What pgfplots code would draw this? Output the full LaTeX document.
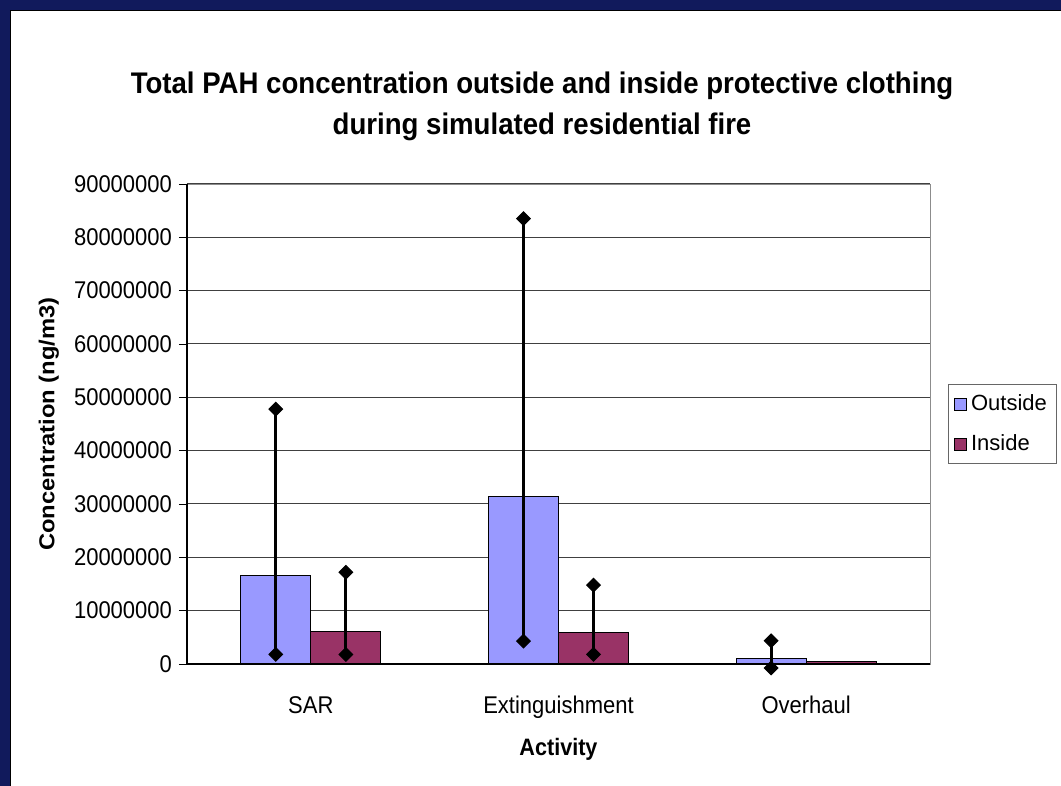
\documentclass[border=0pt]{standalone}
\usepackage{pgfplots}
\pgfplotsset{compat=1.18}
\usepackage{fontspec}
\setmainfont{Liberation Sans}
\definecolor{navyb}{RGB}{17,26,92}
\definecolor{outs}{RGB}{153,153,255}
\definecolor{ins}{RGB}{153,51,102}
\begin{document}
\begin{tikzpicture}
\path[use as bounding box] (0pt,0pt) rectangle (530.5pt,393pt);
\fill[white] (0pt,0pt) rectangle (530.5pt,393pt);
\fill[navyb] (0pt,388pt) rectangle (530.5pt,393pt);
\fill[navyb] (0pt,0pt) rectangle (5pt,393pt);
\draw[black,line width=0.6pt] (5.3pt,0pt) -- (5.3pt,387.7pt) -- (530.5pt,387.7pt);
\node[font=\fontsize{13.8}{19}\selectfont\bfseries,align=center,yscale=1.08] at (271pt,340pt) {Total PAH concentration outside and inside protective clothing\\during simulated residential fire};
\begin{axis}[
  at={(93.5pt,61pt)}, anchor=south west,
  scale only axis, width=371.5pt, height=240pt,
  xmin=-0.5, xmax=2.5, ymin=0, ymax=90000000,
  ybar=0pt, bar width=0.283,
  clip=false,
  scaled y ticks=false,
  axis line style={black!45},
  tick pos=left,
  xtick={0,1,2}, xticklabels={SAR,Extinguishment,Overhaul},
  major x tick style={draw=none},
  extra x ticks={-0.5,0.5,1.5,2.5}, extra x tick labels={},
  extra x tick style={major tick length=4pt, tick style={black, draw=black}, tick align=outside},
  ytick={0,10000000,20000000,30000000,40000000,50000000,60000000,70000000,80000000,90000000},
  yticklabels={0,10000000,20000000,30000000,40000000,50000000,60000000,70000000,80000000,90000000},
  tick align=outside, major tick length=4pt,
  ytick style={black},
  ymajorgrids, grid style={black!75, line width=0.5pt},
  tick label style={font=\fontsize{11}{13}\selectfont, yscale=1.1},
  xticklabel style={anchor=base, yshift=-19pt},
  xlabel={\textbf{Activity}}, ylabel={\textbf{Concentration (ng/m3)}},
  label style={font=\fontsize{10.8}{13}\selectfont},
  xlabel style={at={(axis description cs:0.5,-0.177)}, anchor=center, yscale=1.1},
  ylabel style={at={(axis description cs:-0.186,0.5)}, anchor=center, xscale=1.1},
  legend style={at={(1.024,0.5)}, anchor=west, draw=black!60, font=\fontsize{11}{13}\selectfont, row sep=6.5pt, inner sep=3pt},
  legend cell align=left,
  legend image code/.code={\draw[#1,draw=black,line width=0.4pt,bar width=0pt,ybar=0pt] (0pt,-3pt) rectangle (6pt,3pt);},
  error bars/y dir=both, error bars/y explicit,
  error bars/error bar style={black, line width=1.5pt},
  error bars/error mark=square*,
  error bars/error mark options={black, fill=black, rotate=45, mark size=2.4pt, line width=0.5pt},
]
\addplot[fill=outs, draw=black, line width=0.5pt] coordinates {
  (0,16500000) += (0,31300000) -= (0,14700000)
  (1,31400000) += (0,52100000) -= (0,27100000)
  (2,1050000) += (0,3300000) -= (0,1800000)
};
\addplot[fill=ins, draw=black, line width=0.5pt] coordinates {
  (0,6000000) += (0,11200000) -= (0,4200000)
  (1,5900000) += (0,8900000) -= (0,4100000)
};
\addplot[fill=ins, draw=black, line width=0.5pt, forget plot, bar shift=0.1415] coordinates {
  (2,400000)
};
\legend{Outside,Inside}
\draw[black, line width=0.6pt] (rel axis cs:0,0) -- (rel axis cs:0,1);
\draw[black, line width=0.6pt] (rel axis cs:0,0) -- (rel axis cs:1,0);
\end{axis}
\end{tikzpicture}
\end{document}
